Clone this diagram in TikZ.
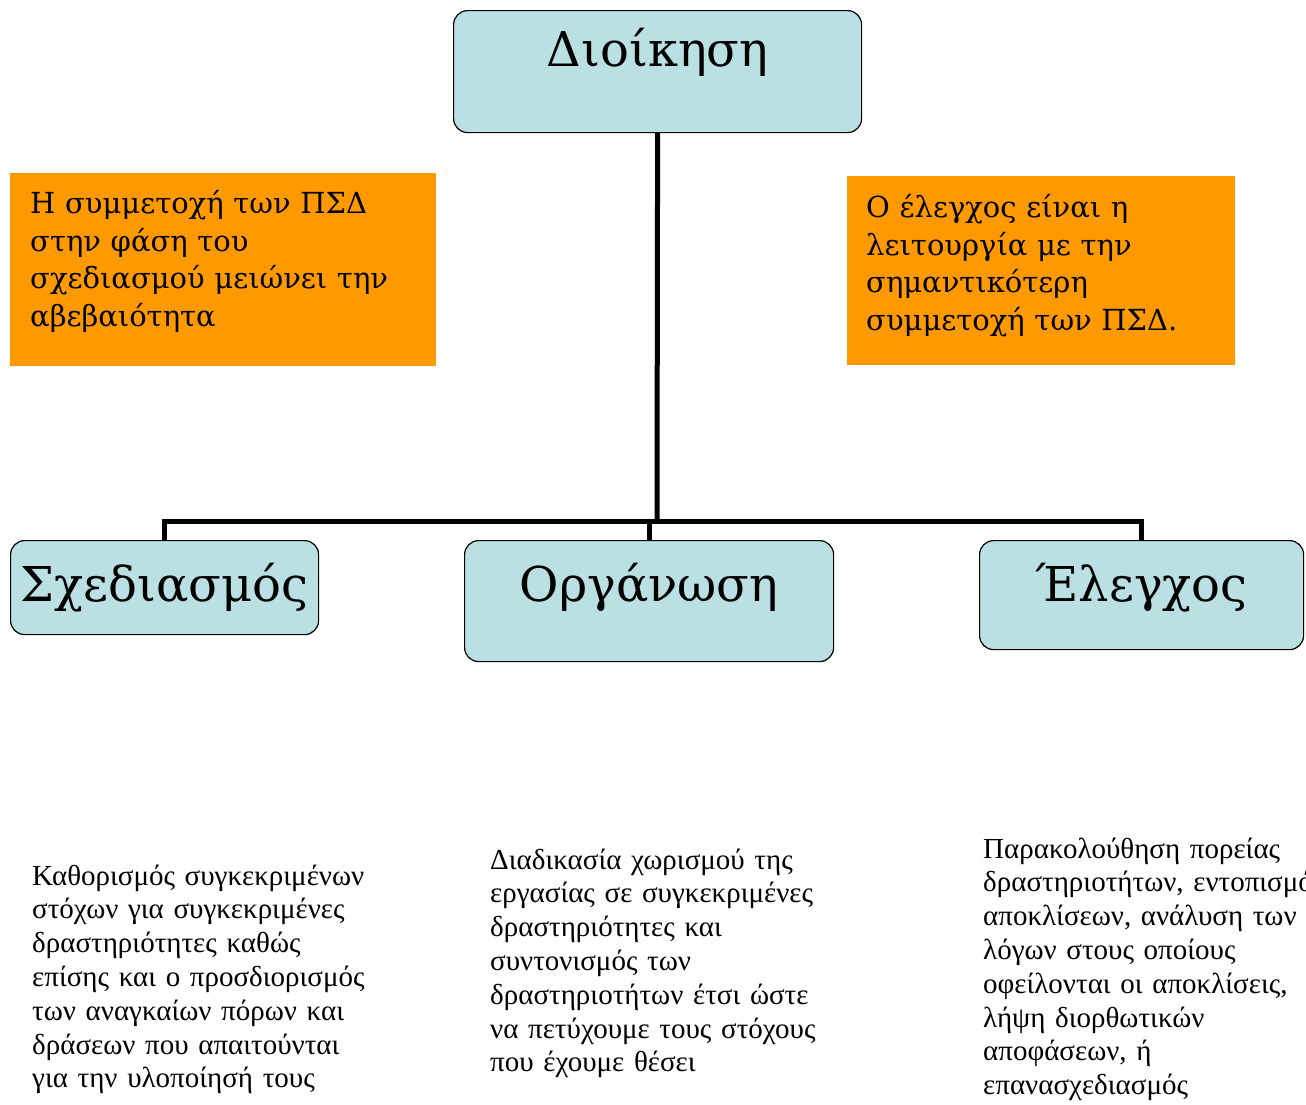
\documentclass[tikz,border=0pt]{standalone}
\usepackage{fontspec}
\setmainfont{Liberation Serif}
\newfontfamily\boxfont{DejaVu Serif}
\usepackage{tikz}
\definecolor{boxblue}{RGB}{187,224,227}
\definecolor{noteorange}{RGB}{255,153,0}

\begin{document}
\begin{tikzpicture}[x=1pt,y=-1pt,
    unit/.style={draw=black,line width=1.2pt,fill=boxblue,rounded corners=14pt,
      anchor=north west,align=center,inner xsep=0pt,inner ysep=0pt,
      font=\boxfont\fontsize{48}{48}\selectfont},
    note/.style={fill=noteorange,anchor=north west,align=left,inner xsep=20pt,inner ysep=0pt,
      font=\boxfont\fontsize{29}{37.8}\selectfont},
    desc/.style={anchor=base west,align=left,inner sep=0pt,
      font=\fontsize{29}{33.8}\selectfont},
    link/.style={line width=5pt}]
  \useasboundingbox (0,0) rectangle (1306,1104);
  \clip (0,0) rectangle (1306,1104);

  \node[unit,text width=408pt,text height=56pt,text depth=66pt] (dioikisi) at (453,10) {Διοίκηση};
  \node[unit,text width=308pt,text height=61pt,text depth=33pt] (sxediasmos) at (10,540) {Σχεδιασμός};
  \node[unit,text width=369pt,text height=61pt,text depth=60pt] (organosi) at (464,540) {Οργάνωση};
  \node[unit,text width=324pt,text height=61pt,text depth=48pt] (elegxos) at (979,540) {Έλεγχος};

  \coordinate (bar) at (657,521);
  \draw[link] (dioikisi.south) -- (bar);
  \draw[link] (sxediasmos.north) |- (bar);
  \draw[link] (organosi.north) |- (bar);
  \draw[link] (elegxos.north) |- (bar);

  \node[note,text width=386pt,text height=40pt,text depth=153pt] (noteleft) at (10,173)
    {Η συμμετοχή των ΠΣΔ\\ στην φάση του\\ σχεδιασμού μειώνει την\\ αβεβαιότητα};
  \node[note,text width=350pt,inner xsep=19pt,text height=41pt,text depth=148pt] (noteright) at (847,176)
    {Ο έλεγχος είναι η\\ λειτουργία με την\\ σημαντικότερη\\ συμμετοχή των ΠΣΔ.};

  \node[desc,text width=400pt] (sxediasmosdesc) at (32,885)
    {Καθορισμός συγκεκριμένων\\ στόχων για συγκεκριμένες\\ δραστηριότητες καθώς\\ επίσης και ο προσδιορισμός\\ των αναγκαίων πόρων και\\ δράσεων που απαιτούνται\\ για την υλοποίησή τους};
  \node[desc,text width=400pt] (organosidesc) at (490,869)
    {Διαδικασία χωρισμού της\\ εργασίας σε συγκεκριμένες\\ δραστηριότητες και\\ συντονισμός των\\ δραστηριοτήτων έτσι ώστε\\ να πετύχουμε τους στόχους\\ που έχουμε θέσει};
  \node[desc,text width=400pt] (elegxosdesc) at (983,858)
    {Παρακολούθηση πορείας\\ δραστηριοτήτων, εντοπισμός\\ αποκλίσεων, ανάλυση των\\ λόγων στους οποίους\\ οφείλονται οι αποκλίσεις,\\ λήψη διορθωτικών\\ αποφάσεων, ή\\ επανασχεδιασμός};
\end{tikzpicture}
\end{document}
